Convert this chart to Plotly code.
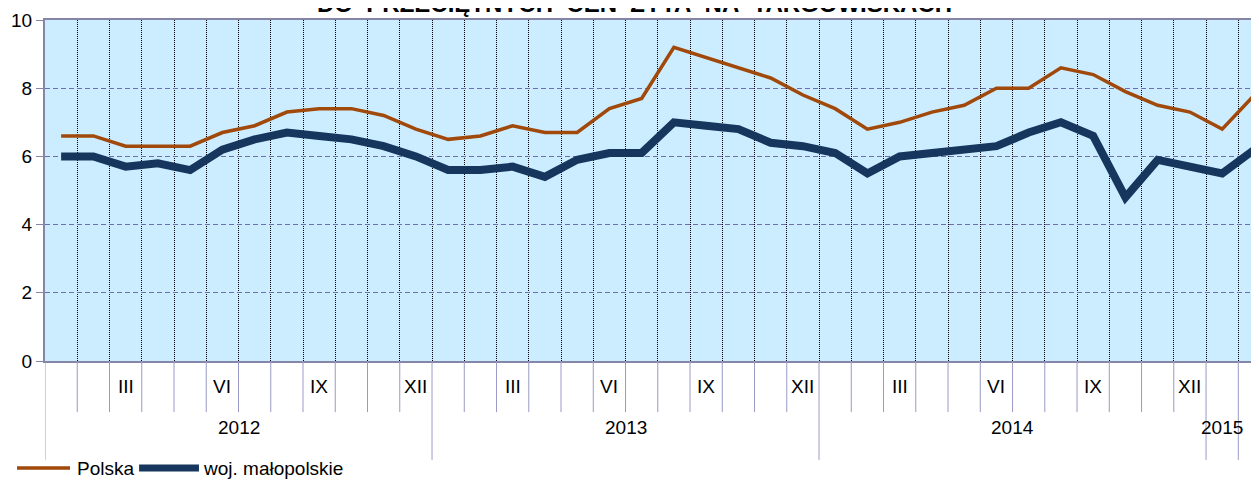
import plotly.graph_objects as go

# --- data -----------------------------------------------------------------
months = ["I", "II", "III", "IV", "V", "VI", "VII", "VIII", "IX", "X", "XI", "XII"] * 3 + ["I", "II"]
years = ["2012"] * 12 + ["2013"] * 12 + ["2014"] * 12 + ["2015", ""]
shown_months = ["III", "VI", "IX", "XII"]

polska = [6.6, 6.6, 6.3, 6.3, 6.3, 6.7, 6.9, 7.3, 7.4, 7.4, 7.2, 6.8,
          6.5, 6.6, 6.9, 6.7, 6.7, 7.4, 7.7, 9.2, 8.9, 8.6, 8.3, 7.8,
          7.4, 6.8, 7.0, 7.3, 7.5, 8.0, 8.0, 8.6, 8.4, 7.9, 7.5, 7.3,
          6.8, 7.8]
malopolskie = [6.0, 6.0, 5.7, 5.8, 5.6, 6.2, 6.5, 6.7, 6.6, 6.5, 6.3, 6.0,
               5.6, 5.6, 5.7, 5.4, 5.9, 6.1, 6.1, 7.0, 6.9, 6.8, 6.4, 6.3,
               6.1, 5.5, 6.0, 6.1, 6.2, 6.3, 6.7, 7.0, 6.6, 4.8, 5.9, 5.7,
               5.5, 6.2]

title = "DO\u00a0\u00a0PRZECIĘTNYCH\u00a0\u00a0CEN\u00a0\u00a0ŻYTA\u00a0\u00a0NA\u00a0\u00a0TARGOWISKACH"

FONT = "Liberation Sans, Arial, sans-serif"
BROWN = "#A0490A"
NAVY = "#17365D"
SEP = "#9A9AC8"

x = list(range(len(months)))

fig = go.Figure()

fig.add_trace(
    go.Scatter(
        x=x,
        y=polska,
        mode="lines",
        name="Polska",
        line=dict(color=BROWN, width=3.5),
        showlegend=False
    )
)

fig.add_trace(
    go.Scatter(
        x=x,
        y=malopolskie,
        mode="lines",
        name="woj. małopolskie",
        line=dict(color=NAVY, width=8),
        showlegend=False
    )
)

# category boundaries (dotted grid inside the plot)
boundaries = [i + 0.5 for i in range(len(months) - 1)]

fig.update_xaxes(
    range=[-0.5, 37.39],
    tickvals=boundaries,
    showticklabels=False,
    ticks="",
    showgrid=True,
    gridcolor="black",
    gridwidth=1,
    griddash="1px,1px",
    showline=True,
    linecolor="#8585A8",
    linewidth=2,
    mirror=True,
    zeroline=False,
    automargin=False
)

fig.update_yaxes(
    range=[0, 10],
    dtick=2,
    showgrid=True,
    gridcolor="#6E6EAE",
    gridwidth=1,
    griddash="5px,3px",
    showline=True,
    linecolor="#8585A8",
    linewidth=2,
    ticks="outside",
    ticklen=7,
    tickcolor="#8585A8",
    tickfont=dict(family=FONT, size=19, color="black"),
    zeroline=False,
    automargin=False
)

# two-level category axis below the plot: month labels, year labels, separators
shapes = []
annotations = []

for i, m in enumerate(months):
    if m in shown_months:
        annotations.append(dict(
            x=i, y=-0.076, xref="x", yref="paper",
            text=m, showarrow=False, yanchor="middle",
            font=dict(family=FONT, size=19, color="black")
        ))

edges = [-0.5] + boundaries
for b in edges:
    left = int(b - 0.5)
    right = int(b + 0.5)
    year_edge = left < 0 or years[left] != years[right]
    shapes.append(dict(
        type="line", xref="x", yref="paper",
        x0=b, x1=b, y0=0, y1=-0.29 if year_edge else -0.15,
        line=dict(color=SEP, width=1)
    ))

for yr in dict.fromkeys(years):
    if not yr:
        continue
    idx = [i for i, v in enumerate(years) if v == yr]
    annotations.append(dict(
        x=sum(idx) / len(idx), y=-0.194, xref="x", yref="paper",
        text=yr, showarrow=False, yanchor="middle",
        font=dict(family=FONT, size=19, color="black")
    ))

# legend drawn below the axis
shapes.append(dict(type="line", xref="paper", yref="paper",
                   x0=-0.0229, x1=0.0205, y0=-0.3138, y1=-0.3138,
                   line=dict(color=BROWN, width=3.5)))
shapes.append(dict(type="line", xref="paper", yref="paper",
                   x0=0.0770, x1=0.1260, y0=-0.3138, y1=-0.3138,
                   line=dict(color=NAVY, width=7)))
annotations.append(dict(x=0.0245, y=-0.3138, xref="paper", yref="paper",
                        text="Polska", showarrow=False,
                        xanchor="left", yanchor="middle",
                        font=dict(family=FONT, size=19, color="black")))
annotations.append(dict(x=0.1275, y=-0.3138, xref="paper", yref="paper",
                        text="woj. małopolskie", showarrow=False,
                        xanchor="left", yanchor="middle",
                        font=dict(family=FONT, size=19, color="black")))

annotations.append(dict(
    x=0.4828, y=1, xref="paper", yref="paper",
    text="<b>" + title + "</b>", showarrow=False,
    xanchor="center", yanchor="bottom", yshift=1,
    font=dict(family=FONT, size=24, color="black"),
))

# the page adds an 8px body margin, so the figure is shifted up/left by 8px
fig.update_layout(
    width=1259,
    height=481,
    autosize=False,
    margin=dict(l=37, r=0, t=12, b=128),
    plot_bgcolor="#CCECFF",
    paper_bgcolor="white",
    shapes=shapes,
    annotations=annotations,
    showlegend=False
)

fig.write_html("out.html")
